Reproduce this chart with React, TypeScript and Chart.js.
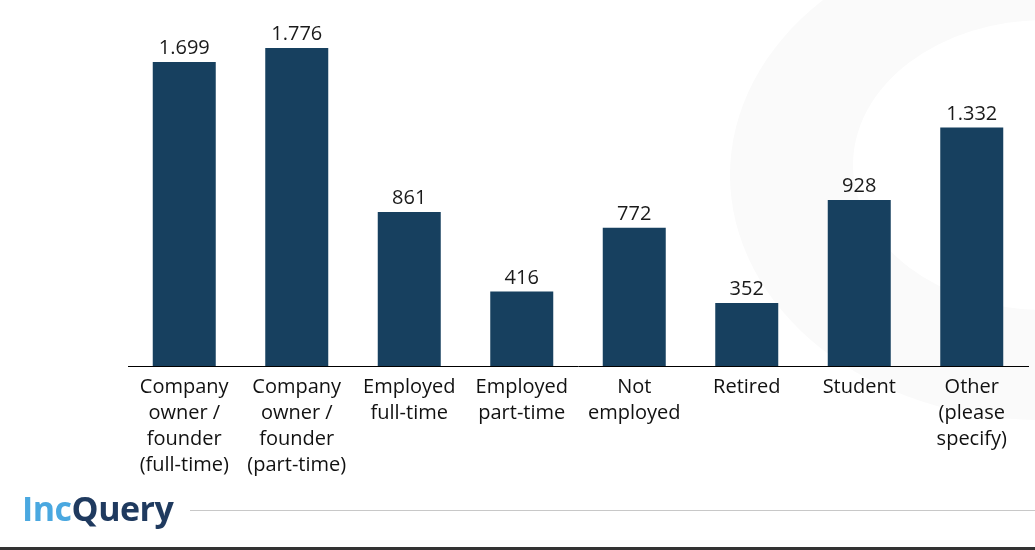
import React, { useEffect, useRef } from "react";
import { Chart, registerables } from "chart.js";

Chart.register(...registerables);

const categories: string[][] = [
  ["Company", "owner /", "founder", "(full-time)"],
  ["Company", "owner /", "founder", "(part-time)"],
  ["Employed", "full-time"],
  ["Employed", "part-time"],
  ["Not", "employed"],
  ["Retired"],
  ["Student"],
  ["Other", "(please", "specify)"],
];
const values: number[] = [1699, 1776, 861, 416, 772, 352, 928, 1332];
const valueLabels: string[] = ["1.699", "1.776", "861", "416", "772", "352", "928", "1.332"];

const BAR_COLOR = "#17405f";
const FONT = "'Open Sans', 'DejaVu Sans', sans-serif";

const ringPlugin = {
  id: "ring",
  beforeDraw(chart: any) {
    const ctx = chart.ctx;
    ctx.save();
    ctx.fillStyle = "#fafafa";
    ctx.beginPath();
    ctx.ellipse(1040, 175, 310, 245, 0, 0, Math.PI * 2);
    ctx.ellipse(1045, 165, 192, 145, 0, 0, Math.PI * 2);
    ctx.fill("evenodd");
    ctx.restore();
  },
};

const valueLabelPlugin = {
  id: "valueLabels",
  afterDatasetsDraw(chart: any) {
    const ctx = chart.ctx;
    const meta = chart.getDatasetMeta(0);
    ctx.save();
    ctx.font = `20px ${FONT}`;
    ctx.fillStyle = "#1a1a1a";
    ctx.textAlign = "center";
    ctx.textBaseline = "alphabetic";
    meta.data.forEach((bar: any, i: number) => {
      ctx.fillText(valueLabels[i], bar.x, bar.y - 8);
    });
    ctx.restore();
  },
};

export default function App() {
  const ref = useRef<HTMLCanvasElement>(null);
  useEffect(() => {
    if (!ref.current) return;
    const chart = new Chart(ref.current, {
      type: "bar",
      data: {
        labels: categories,
        datasets: [
          {
            data: values,
            backgroundColor: BAR_COLOR,
            barPercentage: 0.56,
            categoryPercentage: 1,
          },
        ],
      },
      options: {
        animation: false,
        responsive: false,
        layout: { padding: { top: 8, left: 128, right: 7, bottom: 64 } },
        plugins: { legend: { display: false }, tooltip: { enabled: false } },
        scales: {
          y: { display: false, min: 0, max: 2000 },
          x: {
            grid: { display: false, drawTicks: false },
            border: { display: true, color: "#000", width: 1 },
            ticks: {
              color: "#111",
              padding: 8,
              maxRotation: 0,
              autoSkip: false,
              font: { family: FONT, size: 20, lineHeight: 1.3 },
            },
          },
        },
      },
      plugins: [ringPlugin, valueLabelPlugin],
    });
    return () => chart.destroy();
  }, []);

  return (
    <div style={{ position: "fixed", left: 0, top: 0, width: 1035, height: 550, background: "#fff", overflow: "hidden" }}>
      <canvas ref={ref} width={1035} height={550} style={{ position: "absolute", left: 0, top: 0 }} />
      <div
        style={{
          position: "absolute",
          left: 22,
          top: 488,
          fontFamily: "'Open Sans', sans-serif",
          fontWeight: 700,
          fontSize: 34,
          lineHeight: "40px",
          letterSpacing: -0.5,
        }}
      >
        <span style={{ color: "#4aa8e0" }}>Inc</span>
        <span style={{ color: "#1f3a5f" }}>Query</span>
      </div>
      <div style={{ position: "absolute", left: 190, top: 510, width: 845, height: 1, background: "#c8c8c8" }} />
      <div style={{ position: "absolute", left: 0, top: 547, width: 1035, height: 3, background: "#333" }} />
    </div>
  );
}
